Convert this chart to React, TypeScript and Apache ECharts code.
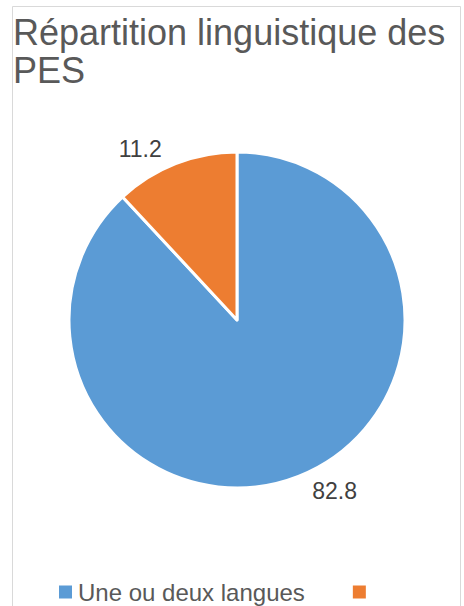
import React, { useEffect, useRef } from "react";
import * as echarts from "echarts";

const categories = ["Une ou deux langues", "Autres"];
const values = [82.8, 11.2];
const colors = ["#5B9BD5", "#ED7D31"];
const titleText = "Répartition linguistique des\nPES";

export default function App() {
  const ref = useRef<HTMLDivElement>(null);
  useEffect(() => {
    document.body.style.margin = "0";
    const chart = echarts.init(ref.current!, null, { renderer: "svg" });
    chart.setOption({
      animation: false,
      backgroundColor: "#ffffff",
      title: {
        text: titleText,
        left: 8,
        top: 8,
        textStyle: {
          fontFamily: "Liberation Sans, Arial, sans-serif",
          fontSize: 36,
          fontWeight: "normal",
          color: "#595959",
          lineHeight: 38,
        },
      },
      graphic: [
        {
          type: "rect",
          shape: { x: 12.5, y: 6.5, width: 448, height: 620 },
          style: { fill: "none", stroke: "#d9d9d9", lineWidth: 1 },
          silent: true,
          z: -1,
        },
      ],
      legend: {
        left: 52,
        top: 575,
        itemWidth: 15,
        itemHeight: 15,
        itemGap: 46,
        icon: "rect",
        data: categories,
        formatter: (name: string) => (name === categories[0] ? name : ""),
        textStyle: {
          fontFamily: "Liberation Sans, Arial, sans-serif",
          fontSize: 24,
          color: "#595959",
        },
      },
      series: [
        {
          type: "pie",
          center: [237, 320],
          radius: 168,
          startAngle: 90,
          clockwise: true,
          color: colors,
          itemStyle: { borderColor: "#ffffff", borderWidth: 3 },
          label: {
            show: true,
            position: "outside",
            formatter: "{c}",
            fontFamily: "Liberation Sans, Arial, sans-serif",
            fontSize: 23,
            color: "#404040",
          },
          labelLine: { show: false, length: 16, length2: 3 },
          data: categories.map((c, i) => ({ name: c, value: values[i] })),
        },
      ],
    });
    return () => chart.dispose();
  }, []);
  return <div ref={ref} style={{ width: 464, height: 606 }} />;
}
